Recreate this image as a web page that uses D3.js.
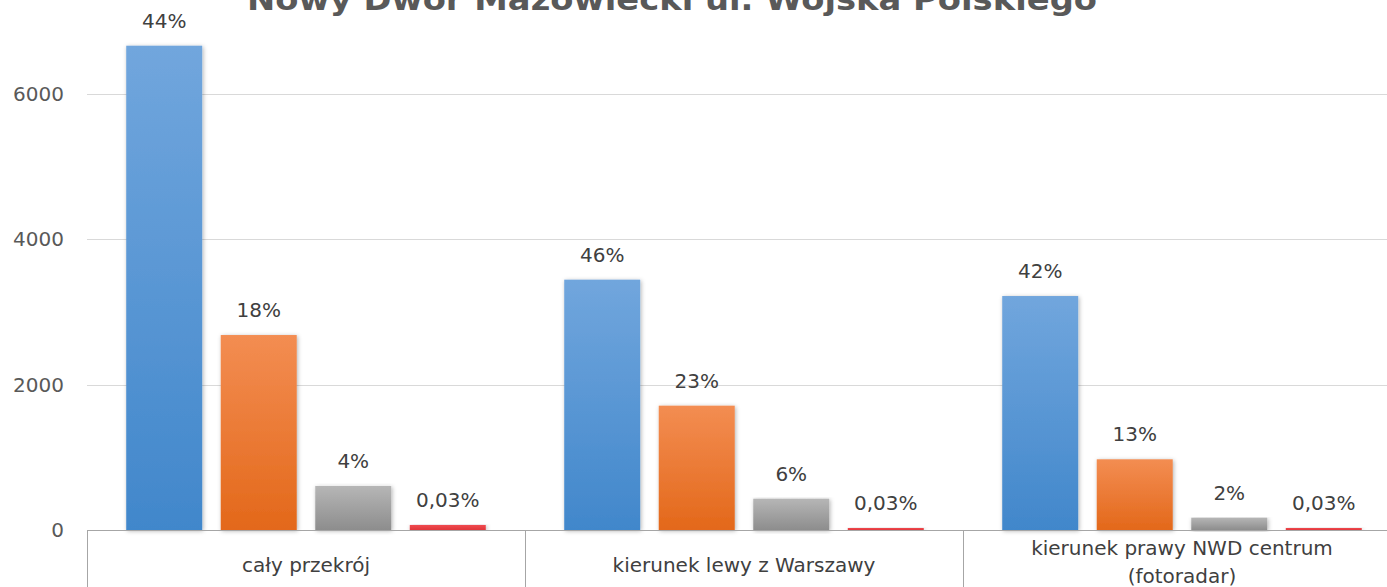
<!DOCTYPE html>
<html>
<head>
<meta charset="utf-8">
<script src="https://cdn.jsdelivr.net/npm/d3@7"></script>
<style>
  html, body { margin: 0; padding: 0; background: #fff; overflow: hidden; }
  svg { display: block; }
  text { font-family: "DejaVu Sans", sans-serif; }
</style>
</head>
<body>
<svg id="chart" width="1387" height="587"></svg>
<script>
const title = "Nowy Dwór Mazowiecki ul. Wojska Polskiego";
const categories = ["cały przekrój", "kierunek lewy z Warszawy", "kierunek prawy NWD centrum\n(fotoradar)"];
const seriesKeys = ["s1", "s2", "s3", "s4"];
const series1 = [6657, 3441, 3216];
const series2 = [2680, 1709, 972];
const series3 = [605, 430, 169];
const series4 = [69, 18, 23];
const labels1 = ["44%", "46%", "42%"];
const labels2 = ["18%", "23%", "13%"];
const labels3 = ["4%", "6%", "2%"];
const labels4 = ["0,03%", "0,03%", "0,03%"];
const yTicks = [0, 2000, 4000, 6000];

const values = [series1, series2, series3, series4];
const labels = [labels1, labels2, labels3, labels4];
const colors = [
  ["#71a6dd", "#4187cb"],
  ["#f38d52", "#e3681a"],
  ["#b6b6b6", "#8d8d8d"],
  ["#f04a4f", "#e0353b"]
];

const svg = d3.select("#chart");
const W = 1387, H = 587;
const left = 87, groupW = 438, y0 = 530;

const x0 = d3.scaleBand().domain(categories).range([left, left + groupW * categories.length]).paddingInner(0).paddingOuter(0);
const x1 = d3.scaleBand().domain(seriesKeys).range([0, x0.bandwidth()]).paddingInner(0.196).paddingOuter(0.415);
const y = d3.scaleLinear().domain([0, 7000]).range([y0, y0 - 145.5 * 3.5]);

const defs = svg.append("defs");
colors.forEach((c, i) => {
  const g = defs.append("linearGradient").attr("id", "grad" + i).attr("x1", 0).attr("y1", 0).attr("x2", 0).attr("y2", 1);
  g.append("stop").attr("offset", "0%").attr("stop-color", c[0]);
  g.append("stop").attr("offset", "100%").attr("stop-color", c[1]);
});
const f = defs.append("filter").attr("id", "shadow").attr("x", "-20%").attr("y", "-5%").attr("width", "140%").attr("height", "115%");
f.append("feDropShadow").attr("dx", 1).attr("dy", 1).attr("stdDeviation", 2).attr("flood-color", "#000").attr("flood-opacity", 0.3);

// gridlines
svg.append("g").selectAll("line").data(yTicks.filter(t => t > 0)).join("line")
  .attr("x1", left).attr("x2", W)
  .attr("y1", d => Math.round(y(d)) + 0.5).attr("y2", d => Math.round(y(d)) + 0.5)
  .attr("stroke", "#d9d9d9").attr("stroke-width", 1);

// y tick labels
svg.append("g").selectAll("text").data(yTicks).join("text")
  .attr("x", 64).attr("y", d => y(d)).attr("dy", "0.36em")
  .attr("text-anchor", "end").attr("font-size", 20).attr("fill", "#595959")
  .text(d => d);

// bars
const groups = svg.append("g").selectAll("g").data(categories).join("g")
  .attr("transform", d => `translate(${x0(d)},0)`);

groups.each(function(cat, ci) {
  const g = d3.select(this);
  seriesKeys.forEach((k, si) => {
    const v = values[si][ci];
    const top = Math.min(y(v), y0 - 2);
    g.append("rect")
      .attr("x", x1(k)).attr("width", x1.bandwidth())
      .attr("y", top).attr("height", y0 - top)
      .attr("fill", `url(#grad${si})`)
      .attr("filter", "url(#shadow)");
    g.append("text")
      .attr("x", x1(k) + x1.bandwidth() / 2)
      .attr("y", top - 18)
      .attr("text-anchor", "middle").attr("font-size", 20).attr("fill", "#404040")
      .text(labels[si][ci]);
  });
});

// category axis
svg.append("line").attr("x1", left).attr("x2", W).attr("y1", y0 + 0.5).attr("y2", y0 + 0.5)
  .attr("stroke", "#a6a6a6").attr("stroke-width", 1);
svg.append("g").selectAll("line").data(categories).join("line")
  .attr("x1", d => Math.round(x0(d)) + 0.5).attr("x2", d => Math.round(x0(d)) + 0.5)
  .attr("y1", y0).attr("y2", H)
  .attr("stroke", "#a6a6a6").attr("stroke-width", 1);

svg.append("g").selectAll("text").data(categories).join("text")
  .attr("text-anchor", "middle").attr("font-size", 20).attr("fill", "#404040")
  .attr("transform", d => `translate(${x0(d) + x0.bandwidth() / 2},0)`)
  .each(function(d) {
    const lines = d.split("\n");
    const t = d3.select(this);
    const base = lines.length === 1 ? 572 : 555;
    lines.forEach((ln, i) => {
      t.append("tspan").attr("x", 0).attr("y", base + i * 28).text(ln);
    });
  });

// title (partly clipped at top as in the reference)
svg.append("text")
  .attr("x", 672).attr("y", 10)
  .attr("text-anchor", "middle").attr("font-size", 31).attr("font-weight", "bold")
  .attr("fill", "#595959")
  .attr("textLength", 850).attr("lengthAdjust", "spacingAndGlyphs")
  .text(title);
</script>
</body>
</html>
